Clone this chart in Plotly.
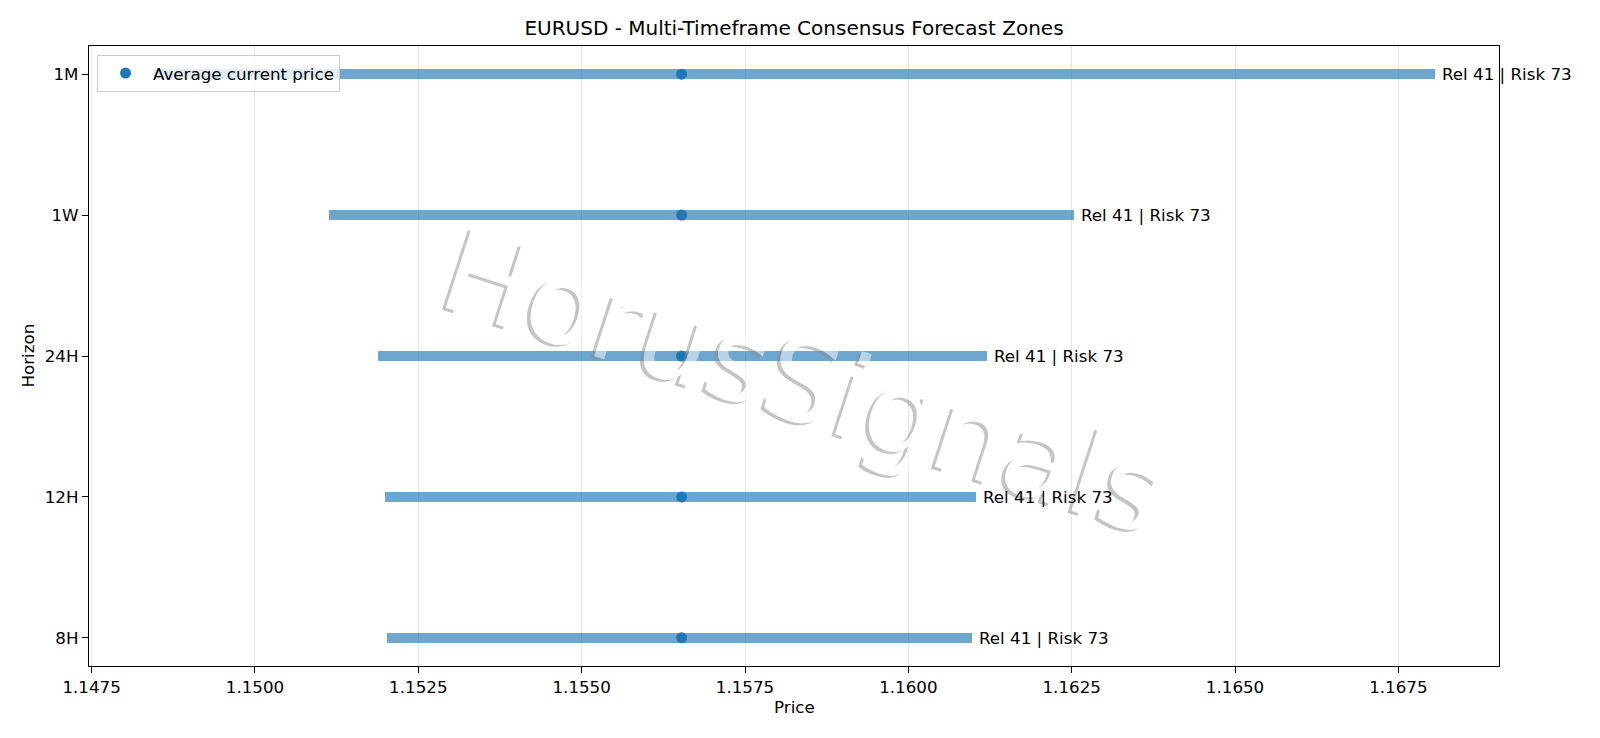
import plotly.graph_objects as go

# forecast zones per horizon (bottom to top)
horizons = ["8H", "12H", "24H", "1W", "1M"]
zone_low = [1.15202, 1.15199, 1.15189, 1.15114, 1.14845]
zone_high = [1.16098, 1.16104, 1.16121, 1.16254, 1.16806]
avg_price = [1.15653, 1.15653, 1.15653, 1.15653, 1.15653]
reliability = [41, 41, 41, 41, 41]
risk = [73, 73, 73, 73, 73]
x_ticks = [1.1475, 1.1500, 1.1525, 1.1550, 1.1575, 1.1600, 1.1625, 1.1650, 1.1675]

FONT = "DejaVu Sans"
BLUE = "#1f77b4"

# page body adds 8px around the plot div, so size/margins are compensated
W, H = 1592, 730

fig = go.Figure()

fig.add_trace(go.Bar(
    y=horizons,
    x=[h - l for l, h in zip(zone_low, zone_high)],
    base=zone_low,
    orientation="h",
    width=0.071,
    marker=dict(color="rgba(31,119,180,0.65)", line=dict(width=0)),
    showlegend=False,
    hoverinfo="skip",
))

fig.add_trace(go.Scatter(
    y=horizons,
    x=avg_price,
    mode="markers",
    marker=dict(color=BLUE, size=11),
    name="Average current price",
))

# watermark
fig.add_annotation(
    text="HorusSignals",
    xref="paper", yref="paper",
    x=0.507, y=0.458,
    xanchor="center", yanchor="middle",
    showarrow=False,
    textangle=18,
    opacity=0.5,
    font=dict(family=FONT, size=115, color="white", shadow="-3px 3px 0.5px #8a8a8a"),
)

for h, hi, rel, rk in zip(horizons, zone_high, reliability, risk):
    fig.add_annotation(
        x=hi, y=h, xref="x", yref="y",
        text=f"Rel {rel} | Risk {rk}",
        showarrow=False,
        xanchor="left", yanchor="middle",
        xshift=5,
        font=dict(family=FONT, size=16.7, color="black"),
    )

# axis titles
fig.add_annotation(
    text="Price", xref="paper", yref="paper", x=0.5, y=0,
    yshift=-41, xanchor="center", yanchor="middle", showarrow=False,
    font=dict(family=FONT, size=16.7, color="black"),
)
fig.add_annotation(
    text="Horizon", xref="paper", yref="paper", x=0, y=0.5,
    xshift=-61.5, xanchor="center", yanchor="middle", showarrow=False,
    textangle=-90,
    font=dict(family=FONT, size=16.7, color="black"),
)

fig.update_layout(
    width=W, height=H,
    margin=dict(l=81, r=100.5, t=37.7, b=71.7),
    paper_bgcolor="white", plot_bgcolor="white",
    font=dict(family=FONT, size=16.7, color="black"),
    title=dict(
        text="EURUSD - Multi-Timeframe Consensus Forecast Zones",
        x=0.5, xref="paper", xanchor="center",
        y=1 - 19.5 / H, yref="container", yanchor="middle",
        font=dict(family=FONT, size=20, color="black"),
    ),
    legend=dict(
        x=0.0057, y=0.986, xanchor="left", yanchor="top",
        bgcolor="rgba(255,255,255,0.8)", bordercolor="#cccccc", borderwidth=1,
        font=dict(family=FONT, size=16.7, color="black"),
        itemwidth=45,
    ),
    showlegend=True,
    bargap=0,
)

fig.update_xaxes(
    range=[1.14746, 1.16904],
    tickvals=x_ticks, ticktext=[f"{v:.4f}" for v in x_ticks],
    ticks="outside", ticklen=6, tickwidth=1.3, tickcolor="black",
    showline=True, linecolor="black", linewidth=1.3, mirror=True,
    showgrid=True, gridcolor="#e6e6e6", gridwidth=1, zeroline=False,
)
fig.update_yaxes(
    type="category", categoryorder="array", categoryarray=horizons,
    range=[-0.2, 4.2],
    ticks="outside", ticklen=6, tickwidth=1.3, tickcolor="black",
    showline=True, linecolor="black", linewidth=1.3, mirror=True,
    showgrid=False, zeroline=False,
)

fig.write_html("out.html")
